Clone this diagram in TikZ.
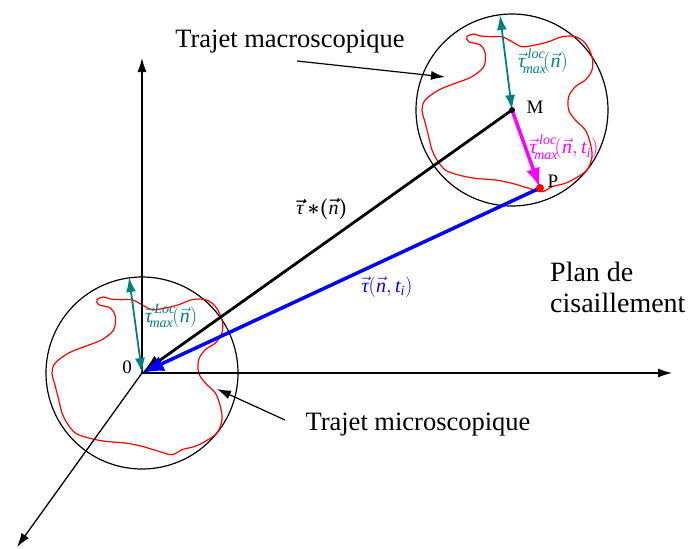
\documentclass[tikz,border=0pt]{standalone}
\usepackage{amsmath}
\usepackage{fontspec}
\setmainfont{Liberation Serif}
\usetikzlibrary{arrows.meta}
\definecolor{tealc}{RGB}{0,128,128}
\definecolor{bluec}{RGB}{0,0,255}
\definecolor{magc}{RGB}{255,0,255}
\definecolor{redc}{RGB}{255,0,0}
\newcommand{\ti}[1]{\text{\itshape #1}}
\newcommand{\vtau}{\vec{\ti{τ}}}
\newcommand{\vnn}{\vec{\ti{n}}}
\tikzset{
  circ/.style={draw=black, line width=1.2pt},
  redpath/.style={draw=redc, line width=1.2pt},
  axisline/.style={draw=black, line width=1.3pt, -{Latex[length=14pt,width=9pt]}},
  blackvec/.style={draw=black, line width=2.8pt, -{Latex[length=20pt,width=14pt]}},
  bluevec/.style={draw=bluec, line width=3.5pt, -{Latex[length=22pt,width=16pt]}},
  magvec/.style={draw=magc, line width=3.5pt, -{Latex[length=20pt,width=14pt]}},
  tealvec/.style={draw=tealc, line width=1.8pt, {Latex[length=15pt,width=10pt]}-{Latex[length=15pt,width=10pt]}},
  pointer/.style={draw=black, line width=1.2pt, -{Latex[length=14pt,width=9pt]}},
  bigtxt/.style={font=\fontsize{26.5}{30}\selectfont, inner sep=0pt},
  plantxt/.style={font=\fontsize{28}{31}\selectfont, inner sep=0pt, align=left},
  mathlab/.style={font=\fontsize{20}{23}\selectfont, inner sep=0pt},
  ptlab/.style={font=\fontsize{19}{22}\selectfont, inner sep=0pt}
}
\begin{document}
\begin{tikzpicture}[x=1pt,y=-1pt]
\useasboundingbox (0,0) rectangle (689,549);
\coordinate (O) at (142,373);
\coordinate (M) at (512,110);
\coordinate (P) at (540,188);
\coordinate (Xend) at (672,373);
\coordinate (Yend) at (142,58);
\coordinate (Zend) at (17,547);
\coordinate (Mtop) at (500,15);
\coordinate (Otop) at (129,277);
% circles
\draw[circ] (O) circle[radius=96pt];
\draw[circ] (M) circle[radius=96pt];
% red paths
\foreach \c in {O,M}{
\draw[redpath, shift={(\c)}] plot[smooth cycle, tension=0.55] coordinates {
(-45,-73.3) (-38.3,-76) (-31.7,-74) (-20,-73.3) (-10,-73.3) (0,-68.3) (10,-63.3)
(23.3,-65) (36.7,-68.3) (50,-73.3) (63.3,-73.3) (73.3,-66.7) (80,-53.3) (80,-40)
(73.3,-30) (63.3,-23.3) (56.7,-13.3) (56.7,0) (63.3,10) (73.3,20) (78.3,33.3)
(80,46.7) (75,60) (63.3,68.3) (53.3,73.3) (40,76.7) (30,81.7) (16.7,78.3) (0,73.3)
(-16.7,70) (-36.7,68.3) (-53.3,65) (-66.7,60) (-75,50) (-80,40) (-83.3,26.7)
(-86.7,13.3) (-90,0) (-86.7,-10) (-73.3,-20) (-56.7,-26.7) (-40,-33.3) (-28.3,-43.3)
(-26.7,-56.7) (-31.7,-65) (-43.3,-68.3)};
}
% axes
\draw[axisline] (O) -- (Xend);
\draw[axisline] (O) -- (Yend);
\draw[axisline] (O) -- (Zend);
% vectors
\draw[blackvec] (M) -- (O);
\draw[bluevec] (P) -- (O);
\draw[magvec] (M) -- (P);
\draw[tealvec] (Mtop) -- (M);
\draw[tealvec] (Otop) -- (O);
\fill[black] (M) circle[radius=3pt];
\fill[redc] (P) circle[radius=4pt];
% labels
\node[ptlab] (lO) at (127,367) {0};
\node[ptlab] (lM) at (535,107) {M};
\node[ptlab] (lP) at (553,181) {P};
\node[mathlab, text=tealc] (tbig) at (543,61) {$\vtau^{\,\ti{loc}}_{\!\ti{max}}\!(\vnn)$};
\node[mathlab, text=tealc] (tsmall) at (171,316) {$\vtau^{\,\ti{Loc}}_{\!\ti{max}}\!(\vnn)$};
\node[mathlab, text=magc] (tmag) at (564,147) {$\vtau^{\,\ti{loc}}_{\!\ti{max}}\!(\vnn,\ti{t}_{\ti{i}})$};
\node[mathlab, text=black] (tstar) at (322,209) {$\boldsymbol{\vtau\,{*}(\vnn)}$};
\node[mathlab, text=bluec] (tblue) at (387,287) {$\vtau(\vnn,\ti{t}_{\ti{i}})$};
\node[bigtxt] (tmacro) at (290,42) {Trajet macroscopique};
\node[bigtxt] (tmicro) at (418,425) {Trajet microscopique};
\node[plantxt, anchor=north west] (tplan) at (550,262) {Plan de\\cisaillement};
% pointers
\coordinate (macroTail) at (297,61);
\coordinate (macroTip) at (445,77);
\coordinate (microTail) at (285,420);
\coordinate (microTip) at (217,389);
\draw[pointer] (macroTail) -- (macroTip);
\draw[pointer] (microTail) -- (microTip);
\end{tikzpicture}
\end{document}
